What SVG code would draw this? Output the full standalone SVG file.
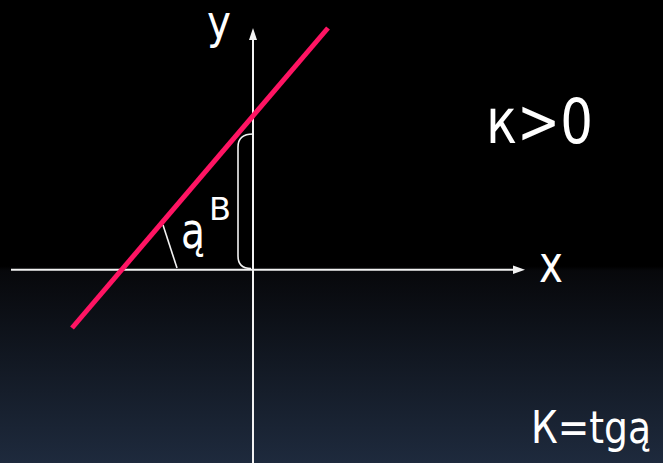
<svg xmlns="http://www.w3.org/2000/svg" width="663" height="463" viewBox="0 0 663 463">
<defs>
<linearGradient id="bg" x1="0" y1="0" x2="0" y2="1">
<stop offset="0" stop-color="#000"/>
<stop offset="0.575" stop-color="#000"/>
<stop offset="0.585" stop-color="#07080b"/>
<stop offset="1" stop-color="#1e2a3d"/>
</linearGradient>
<style>
.ax{stroke:#f2f2f2;stroke-width:2;fill:none}
.thin{stroke:#f2f2f2;stroke-width:1.6;fill:none}
.t{fill:#fff;font-family:"DejaVu Sans","Noto Sans",sans-serif}
</style>
</defs>
<rect width="663" height="463" fill="url(#bg)"/>
<g id="axes">
<line class="ax" x1="11" y1="269.7" x2="515" y2="269.7"/>
<polygon points="525,269.7 513,265.5 513,274" fill="#f2f2f2"/>
<line class="ax" x1="253" y1="463" x2="253" y2="38"/>
<polygon points="253,28 249,40 257,40" fill="#f2f2f2"/>
</g>
<g id="marks">
<path class="thin" d="M253,134 Q238,134 238,147 L238,256 Q238,268.5 251,268.5"/>
<line class="thin" x1="163" y1="225" x2="177" y2="268"/>
</g>
<g id="graph">
<line x1="72" y1="328" x2="328" y2="28" stroke="#ff1463" stroke-width="5"/>
</g>
<g id="labels">
<text class="t" x="207" y="38" font-size="46" textLength="24" lengthAdjust="spacingAndGlyphs">y</text>
<text class="t" x="539" y="282" font-size="51" textLength="24" lengthAdjust="spacingAndGlyphs">x</text>
<text class="t" x="486" y="143" font-size="63" textLength="107" lengthAdjust="spacingAndGlyphs">к&gt;0</text>
<text class="t" x="181" y="248" font-size="50" textLength="24" lengthAdjust="spacingAndGlyphs">ą</text>
<text class="t" x="209" y="219.5" font-size="32" textLength="22" lengthAdjust="spacingAndGlyphs">В</text>
<text class="t" x="531" y="443" font-size="45" textLength="120" lengthAdjust="spacingAndGlyphs">К=tgą</text>
</g>
</svg>
